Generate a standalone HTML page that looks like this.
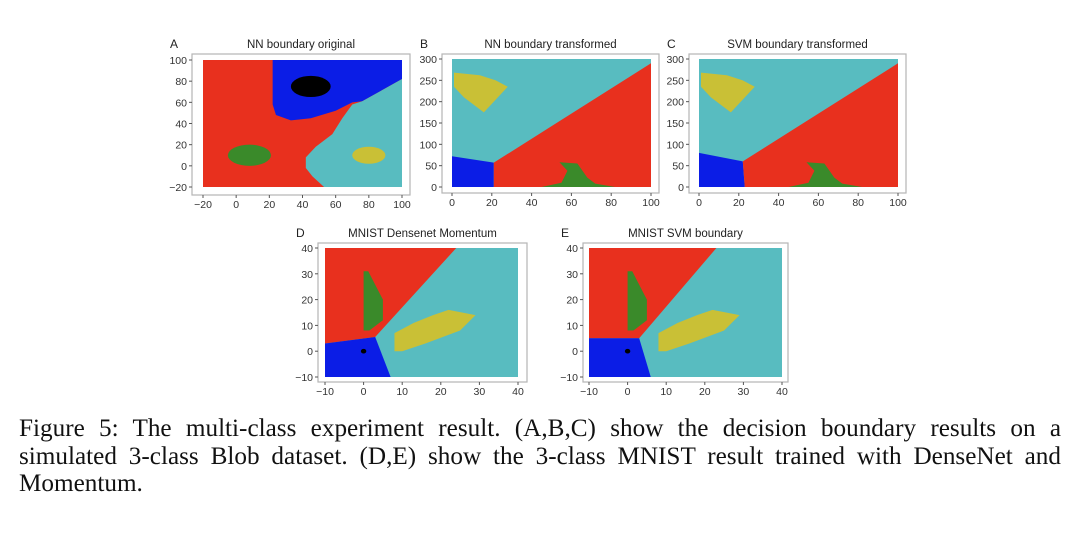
<!DOCTYPE html>
<html><head><meta charset="utf-8"><style>
body{margin:0;background:#fff;width:1080px;height:533px;overflow:hidden;position:relative;font-family:"Liberation Sans",sans-serif}
#cap{position:absolute;left:19px;top:415px;width:1042px;font-family:"Liberation Serif",serif;font-size:25.2px;line-height:27.5px;color:#111}
#cap .j{text-align:justify;text-align-last:justify}
svg{position:absolute;left:0;top:0}
</style></head><body>
<svg id="fig" width="1080" height="533"></svg>
<div id="cap"><div class="j">Figure 5: The multi-class experiment result. (A,B,C) show the decision boundary results on a</div><div class="j">simulated 3-class Blob dataset. (D,E) show the 3-class MNIST result trained with DenseNet and</div><div>Momentum.</div></div>
<script>
const RED="#e8301e",BLUE="#0b1de6",CYAN="#58bcc0",GREEN="#3a8a2a",YEL="#c9c036",BLK="#000";
const panelLetters=["A","B","C","D","E"];
const panelTitles=["NN boundary original","NN boundary transformed","SVM boundary transformed","MNIST Densenet Momentum","MNIST SVM boundary"];
const xTicksA=[-20,0,20,40,60,80,100], yTicksA=[-20,0,20,40,60,80,100];
const xTicksB=[0,20,40,60,80,100], yTicksB=[0,50,100,150,200,250,300];
const xTicksD=[-10,0,10,20,30,40], yTicksD=[-10,0,10,20,30,40];
const regionsA=[
 [BLUE,[[22,100],[100,100],[100,82],[76,61],[70,60],[60,52],[45,45],[33,43],[24,48],[22,58]]],
 [CYAN,[[100,82],[76,61],[70,58],[64,45],[58,30],[48,18],[42,8],[42,-2],[46,-10],[53,-20],[100,-20]]]];
const blobsA=[[BLK,45,75,12,10],[GREEN,8,10,13,10],[YEL,80,10,10,8]];
const regionsB=[
 [BLUE,[[0,0],[0,72],[21,57],[21,0]]],
 [RED,[[21,0],[21,57],[100,290],[100,0]]],
 [YEL,[[1,268],[14,262],[22,250],[28,235],[16,175],[6,210],[1,235]]],
 [GREEN,[[45,0],[82,0],[72,8],[68,22],[63,55],[54,58],[58,38],[55,10]]]];
const regionsC=[
 [BLUE,[[0,0],[0,80],[22,60],[23,0]]],
 [RED,[[23,0],[22,60],[100,290],[100,0]]],
 [YEL,[[1,268],[14,262],[22,250],[28,235],[16,175],[6,210],[1,235]]],
 [GREEN,[[45,0],[82,0],[72,8],[68,22],[63,55],[54,58],[58,38],[55,10]]]];
const regionsD=[
 [RED,[[-10,40],[24,40],[3,5.5],[-10,3]]],
 [BLUE,[[-10,3],[3,5.5],[7,-10],[-10,-10]]],
 [GREEN,[[0,31],[1.2,31],[5,20],[5,12],[1.5,8],[0,8]]],
 [YEL,[[8,0],[8,7],[13,11],[18,14],[22,16],[29,14],[25,8],[16,3],[10,0]]]];
const regionsE=[
 [RED,[[-10,40],[23,40],[3,5],[-10,5]]],
 [BLUE,[[-10,5],[3,5],[6,-10],[-10,-10]]],
 [GREEN,[[0,31],[1.2,31],[5,20],[5,12],[1.5,8],[0,8]]],
 [YEL,[[8,0],[8,7],[13,11],[18,14],[22,16],[29,14],[25,8],[16,3],[10,0]]]];
const dotsDE=[[BLK,0,0,0.7,0.9]];
const panels=[
 {bg:RED,xd:[-20,100],yd:[-20,100],xr:[203,402],yr:[187,60],fr:[192,54,218,141],xt:xTicksA,yt:yTicksA,reg:regionsA,bl:blobsA},
 {bg:CYAN,xd:[0,100],yd:[0,300],xr:[452,651],yr:[187,59],fr:[442,54,217,139],xt:xTicksB,yt:yTicksB,reg:regionsB,bl:[]},
 {bg:CYAN,xd:[0,100],yd:[0,300],xr:[699,898],yr:[187,59],fr:[689,54,217,139],xt:xTicksB,yt:yTicksB,reg:regionsC,bl:[]},
 {bg:CYAN,xd:[-10,40],yd:[-10,40],xr:[325,518],yr:[377,248],fr:[318,243,209,139],xt:xTicksD,yt:yTicksD,reg:regionsD,bl:dotsDE},
 {bg:CYAN,xd:[-10,40],yd:[-10,40],xr:[589,782],yr:[377,248],fr:[583,243,205,139],xt:xTicksD,yt:yTicksD,reg:regionsE,bl:dotsDE}];
const svg=document.getElementById('fig');const NS="http://www.w3.org/2000/svg";
function mk(t,a,p){const e=document.createElementNS(NS,t);for(const k in a)e.setAttribute(k,a[k]);p.appendChild(e);return e;}
panels.forEach((p,i)=>{
 const sx=v=>p.xr[0]+(v-p.xd[0])/(p.xd[1]-p.xd[0])*(p.xr[1]-p.xr[0]);
 const sy=v=>p.yr[0]+(v-p.yd[0])/(p.yd[1]-p.yd[0])*(p.yr[1]-p.yr[0]);
 const g=mk('g',{},svg);
 
 
 const f=p.fr;
 const fr=mk('rect',{x:f[0],y:f[1],width:f[2],height:f[3],fill:'#fff',stroke:'#b5b5b5','stroke-width':1.2},g);
 
 
 const bg=mk('rect',{x:sx(p.xd[0]),y:sy(p.yd[1]),width:sx(p.xd[1])-sx(p.xd[0]),height:sy(p.yd[0])-sy(p.yd[1]),fill:p.bg},g);
 
 
 p.reg.forEach(r=>{
  const pg=mk('polygon',{points:r[1].map(q=>sx(q[0])+','+sy(q[1])).join(' '),fill:r[0]},g);
  
  });
 p.bl.forEach(b=>{
  const el=mk('ellipse',{cx:sx(b[1]),cy:sy(b[2]),rx:Math.abs(sx(b[3])-sx(0)),ry:Math.abs(sy(b[4])-sy(0)),fill:b[0]},g);
  
  });
 const by=f[1]+f[3];
 p.xt.forEach(t=>{
  mk('line',{x1:sx(t),x2:sx(t),y1:by,y2:by+3,stroke:'#555'},g);
  const tx=mk('text',{x:sx(t),y:by+13,'text-anchor':'middle','font-size':10.5,fill:'#333'},g);
  tx.textContent=t<0?'\u2212'+(-t):t;
  
  });
 p.yt.forEach(t=>{
  mk('line',{x1:f[0]-3,x2:f[0],y1:sy(t),y2:sy(t),stroke:'#555'},g);
  const tx=mk('text',{x:f[0]-5,y:sy(t)+4,'text-anchor':'end','font-size':10.5,fill:'#333'},g);
  tx.textContent=t<0?'\u2212'+(-t):t;
  
  });
 const tt=mk('text',{x:f[0]+f[2]/2,y:f[1]-6,'text-anchor':'middle','font-size':11.5,fill:'#222'},g);
 tt.textContent=panelTitles[i];
 
 
 const lt=mk('text',{x:f[0]-22,y:f[1]-6,'font-size':12,fill:'#222'},g);
 lt.textContent=panelLetters[i];
 
 
});
</script>
</body></html>
